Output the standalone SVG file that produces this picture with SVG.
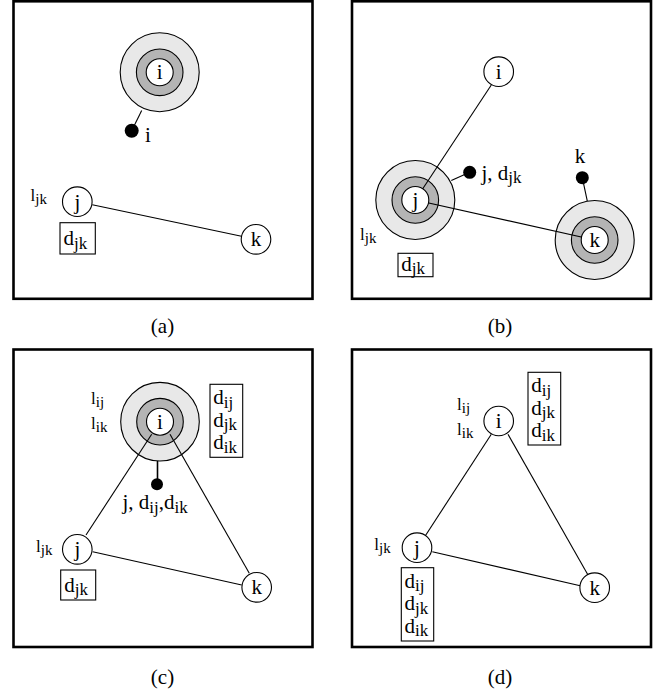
<svg xmlns="http://www.w3.org/2000/svg" width="667" height="696" viewBox="0 0 667 696">
<style>
.frame{fill:#fff;stroke:#000;stroke-width:2.6}
.edge{stroke:#000;stroke-width:1.1;fill:none}
.node{fill:#fff;stroke:#000;stroke-width:1.1}
.outer{fill:#e8e8e8;stroke:#000;stroke-width:1.1}
.mid{fill:#b4b4b4;stroke:#000;stroke-width:1.1}
.dot{fill:#000}
.box{fill:#fff;stroke:#000;stroke-width:1.1}
text{font-family:"Liberation Serif","Times New Roman",serif;fill:#000}
.lab{font-size:21px}
.nl{font-size:21px;text-anchor:middle}
.sub{font-size:17px}
.ll{font-size:17px}
.lsub{font-size:15px}
.cap{font-size:21px;text-anchor:middle}
</style>
<rect width="667" height="696" fill="#fff"/>
<g id="frames">
<rect class="frame" x="13.5" y="1.3" width="299" height="297.5"/>
<rect class="frame" x="352" y="1.3" width="299" height="297.5"/>
<rect class="frame" x="13.5" y="349.5" width="299" height="297.5"/>
<rect class="frame" x="352" y="349.5" width="299" height="297.5"/>
</g>
<!-- ===== panel (a) ===== -->
<g id="a-i-rings">
<circle class="outer" cx="159.7" cy="72.3" r="39.5"/>
<circle class="mid" cx="159.7" cy="72.3" r="23.3"/>
</g>
<g id="connectors-a">
<line class="edge" x1="141.7" y1="110.5" x2="131.7" y2="130.7"/>
<line class="edge" x1="92.3" y1="204.8" x2="241.5" y2="236.3"/>
</g>
<g id="a-node-i">
<circle class="node" cx="159.7" cy="72.3" r="13.5"/>
<text class="nl" x="159.7" y="79.3">i</text>
</g>
<g id="a-msg"><circle class="dot" cx="131.7" cy="130.7" r="7"/><text class="lab" x="145" y="142">i</text></g>
<g id="a-node-j">
<circle class="node" cx="77.3" cy="201.7" r="14.8"/>
<text class="nl" x="77.3" y="208.7">j</text>
<text class="ll" x="30.5" y="201">l<tspan class="lsub" dy="3">jk</tspan></text>
</g>
<g id="a-box-j"><rect class="box" x="60" y="222.7" width="35.3" height="31.3"/><text class="lab" x="63.5" y="245">d<tspan class="sub" dy="3.5">jk</tspan></text></g>
<g id="a-node-k"><circle class="node" cx="256" cy="239.3" r="14.8"/><text class="nl" x="256" y="246.3">k</text></g>
<text class="cap" x="162.5" y="333">(a)</text>
<!-- ===== panel (b) ===== -->
<g id="b-rings">
<circle class="outer" cx="415.3" cy="200" r="39.5"/>
<circle class="mid" cx="415.3" cy="200" r="23.3"/>
<circle class="outer" cx="594.7" cy="240" r="39.5"/>
<circle class="mid" cx="594.7" cy="240" r="23.3"/>
</g>
<g id="connectors-b">
<line class="edge" x1="491.3" y1="85" x2="415.3" y2="200"/>
<line class="edge" x1="415.3" y1="200" x2="594.7" y2="240"/>
<line class="edge" x1="451.3" y1="180.5" x2="469.7" y2="172.3"/>
<line class="edge" x1="582.3" y1="177.7" x2="587.3" y2="201.2"/>
</g>
<g id="b-node-i"><circle class="node" cx="498.7" cy="71.7" r="14.8"/><text class="nl" x="498.7" y="78.7">i</text></g>
<g id="b-node-j">
<circle class="node" cx="415.3" cy="200" r="13.5"/>
<text class="nl" x="415.3" y="207">j</text>
<text class="ll" x="360" y="239.5">l<tspan class="lsub" dy="3">jk</tspan></text>
</g>
<g id="b-box-j"><rect class="box" x="398" y="253.3" width="35" height="23.4"/><text class="lab" x="401.2" y="270.5">d<tspan class="sub" dy="3.5">jk</tspan></text></g>
<g id="b-node-k"><circle class="node" cx="594.7" cy="240" r="13.5"/><text class="nl" x="594.7" y="247">k</text></g>
<g id="b-msg-j"><circle class="dot" cx="469.7" cy="172.3" r="6.5"/><text class="lab" x="481.5" y="179.5">j, d<tspan class="sub" dy="3.5">jk</tspan></text></g>
<g id="b-msg-k"><circle class="dot" cx="582.3" cy="177.7" r="6.5"/><text class="nl" x="580" y="163">k</text></g>
<text class="cap" x="500" y="333">(b)</text>
<!-- ===== panel (c) ===== -->
<g id="c-rings">
<circle class="outer" cx="160" cy="421.7" r="39.3"/>
<circle class="mid" cx="160" cy="421.7" r="23.3"/>
</g>
<g id="connectors-c">
<line class="edge" x1="151.7" y1="434.3" x2="86" y2="535"/>
<line class="edge" x1="170" y1="434.3" x2="249.3" y2="573.3"/>
<line class="edge" x1="92.7" y1="551.7" x2="241.7" y2="585"/>
<line class="edge" x1="157.5" y1="461" x2="157.5" y2="484.3" style="stroke-width:1.6"/>
</g>
<g id="c-node-i">
<circle class="node" cx="160" cy="421.7" r="13.5"/>
<text class="nl" x="160" y="428.7">i</text>
<text class="ll" x="91" y="403.5">l<tspan class="lsub" dy="3">ij</tspan></text>
<text class="ll" x="91" y="428.5">l<tspan class="lsub" dy="3">ik</tspan></text>
</g>
<g id="c-box-i">
<rect class="box" x="210" y="384.3" width="32.7" height="73"/>
<text class="lab" x="213.3" y="404.3">d<tspan class="sub" dy="3.5">ij</tspan></text>
<text class="lab" x="213.3" y="426.7">d<tspan class="sub" dy="3.5">jk</tspan></text>
<text class="lab" x="213.3" y="449.3">d<tspan class="sub" dy="3.5">ik</tspan></text>
</g>
<g id="c-msg"><circle class="dot" cx="157" cy="484.3" r="6"/><text class="lab" x="122.5" y="509">j, d<tspan class="sub" dy="3.5">ij</tspan><tspan dy="-3.5">,d</tspan><tspan class="sub" dy="3.5">ik</tspan></text></g>
<g id="c-node-j">
<circle class="node" cx="77.3" cy="549.3" r="14.8"/>
<text class="nl" x="77.3" y="556.3">j</text>
<text class="ll" x="36" y="551.5">l<tspan class="lsub" dy="3">jk</tspan></text>
</g>
<g id="c-box-j"><rect class="box" x="60.7" y="570" width="35" height="30"/><text class="lab" x="64.2" y="591.5">d<tspan class="sub" dy="3.5">jk</tspan></text></g>
<g id="c-node-k"><circle class="node" cx="256.7" cy="587.3" r="14.8"/><text class="nl" x="256.7" y="594.3">k</text></g>
<text class="cap" x="162.5" y="684">(c)</text>
<!-- ===== panel (d) ===== -->
<g id="connectors-d">
<line class="edge" x1="491.3" y1="434.3" x2="424.7" y2="536.7"/>
<line class="edge" x1="508" y1="434.3" x2="588" y2="575"/>
<line class="edge" x1="432.3" y1="551.7" x2="581.3" y2="586"/>
</g>
<g id="d-node-i">
<circle class="node" cx="498.7" cy="421" r="14.8"/>
<text class="nl" x="498.7" y="428">i</text>
<text class="ll" x="457" y="410">l<tspan class="lsub" dy="3">ij</tspan></text>
<text class="ll" x="457" y="435">l<tspan class="lsub" dy="3">ik</tspan></text>
</g>
<g id="d-box-i">
<rect class="box" x="528" y="372.3" width="32.7" height="72.7"/>
<text class="lab" x="531.3" y="392.3">d<tspan class="sub" dy="3.5">ij</tspan></text>
<text class="lab" x="531.3" y="414.7">d<tspan class="sub" dy="3.5">jk</tspan></text>
<text class="lab" x="531.3" y="437.3">d<tspan class="sub" dy="3.5">ik</tspan></text>
</g>
<g id="d-node-j">
<circle class="node" cx="417" cy="547.7" r="14.8"/>
<text class="nl" x="417" y="554.7">j</text>
<text class="ll" x="374.3" y="550">l<tspan class="lsub" dy="3">jk</tspan></text>
</g>
<g id="d-box-j">
<rect class="box" x="401.3" y="567.7" width="32.4" height="73.3"/>
<text class="lab" x="404.6" y="587.7">d<tspan class="sub" dy="3.5">ij</tspan></text>
<text class="lab" x="404.6" y="610">d<tspan class="sub" dy="3.5">jk</tspan></text>
<text class="lab" x="404.6" y="632.7">d<tspan class="sub" dy="3.5">ik</tspan></text>
</g>
<g id="d-node-k"><circle class="node" cx="594.7" cy="587.7" r="14.8"/><text class="nl" x="594.7" y="594.7">k</text></g>
<text class="cap" x="500" y="684">(d)</text>
</svg>
